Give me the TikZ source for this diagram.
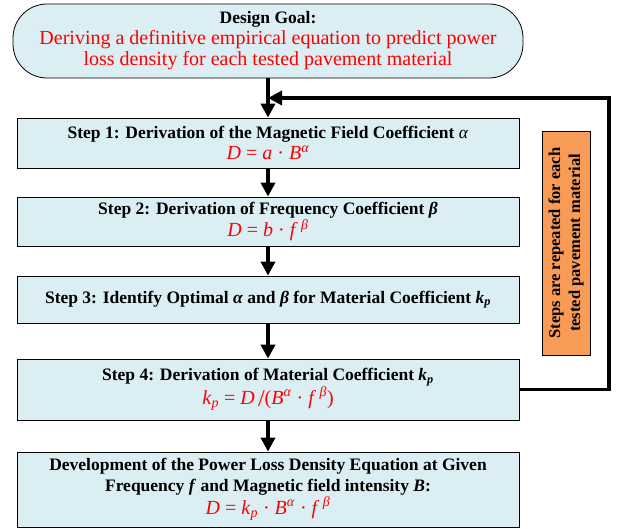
\documentclass[tikz,border=0pt]{standalone}
\usepackage{fontspec}
\setmainfont{Liberation Serif}
\usetikzlibrary{arrows.meta}
\definecolor{boxblue}{HTML}{DAEEF3}
\definecolor{notebg}{HTML}{F79B57}
\newcommand{\vi}[1]{\textit{#1}}
\newcommand{\sps}[1]{\textsuperscript{\textit{#1}}}
\newcommand{\eqsize}{\fontsize{20}{22}\selectfont}
\tikzset{
  stepbox/.style={draw, thick, fill=boxblue, minimum width=502pt, align=center,
    font=\fontsize{17.5}{21}\selectfont, inner sep=1pt},
  flow/.style={line width=3.5pt, -{Triangle[length=14pt,width=14pt]}},
}
\begin{document}
\begin{tikzpicture}[x=1pt,y=-1pt]
      \useasboundingbox (0,0) rectangle (618,529);
      \draw
        (268,41) node[stepbox, minimum width=510pt, minimum height=74pt,
          rounded corners=34pt] (goal)
          {\textbf{Design Goal:}\\
           \color{red}\fontsize{20}{23}\selectfont Deriving a definitive empirical equation to predict power\\
           \color{red}\fontsize{20}{23}\selectfont loss density for each tested pavement material}
        (268,143) node[stepbox, minimum height=50pt] (s1)
          {\textbf{Step 1: Derivation of the Magnetic Field Coefficient} \vi{α}\\
           \color{red}\eqsize\vi{D} = \vi{a} · \vi{B}\sps{α}}
        (268,221.5) node[stepbox, minimum height=49pt] (s2)
          {\textbf{Step 2: Derivation of Frequency Coefficient \vi{β}}\\
           \color{red}\eqsize\vi{D} = \vi{b} · \vi{f}\,\sps{β}}
        (268,299.5) node[stepbox, minimum height=47pt] (s3)
          {\textbf{Step 3: Identify Optimal \vi{α} and \vi{β} for Material Coefficient \vi{k}\textsubscript{\vi{p}}}}
        (268,389.5) node[stepbox, minimum height=61pt] (s4)
          {\textbf{Step 4: Derivation of Material Coefficient \vi{k}\textsubscript{\vi{p}}}\\
           \color{red}\eqsize\vi{k}\textsubscript{\vi{p}} = \vi{D}\,\raisebox{-2pt}{\fontsize{24}{24}\selectfont/}(\vi{B}\sps{α} · \vi{f}\,\sps{β})}
        (268,489.5) node[stepbox, minimum height=75pt] (res)
          {\textbf{Development of the Power Loss Density Equation at Given}\\
           \textbf{Frequency \vi{f} and Magnetic field intensity \vi{B}:}\\
           \color{red}\eqsize\vi{D} = \vi{k}\textsubscript{\vi{p}} · \vi{B}\sps{α} · \vi{f}\,\sps{β}}
        (566,243) node[draw, thick, fill=notebg, rotate=90, minimum width=224pt,
          minimum height=48pt, align=center, inner sep=1pt,
          font=\fontsize{16.5}{20}\selectfont\bfseries] (note)
          {Steps are repeated for each\\tested pavement material};
      \coordinate (turn) at (609,98);
      \coordinate (join) at (268,98);
      \begin{scope}[flow]
        \draw (goal) to (s1);
        \draw (s1) to (s2);
        \draw (s2) to (s3);
        \draw (s3) to (s4);
        \draw (s4) to (res);
        \draw (s4.east) -| (turn) -- (join);
      \end{scope}
    \end{tikzpicture}
\end{document}
